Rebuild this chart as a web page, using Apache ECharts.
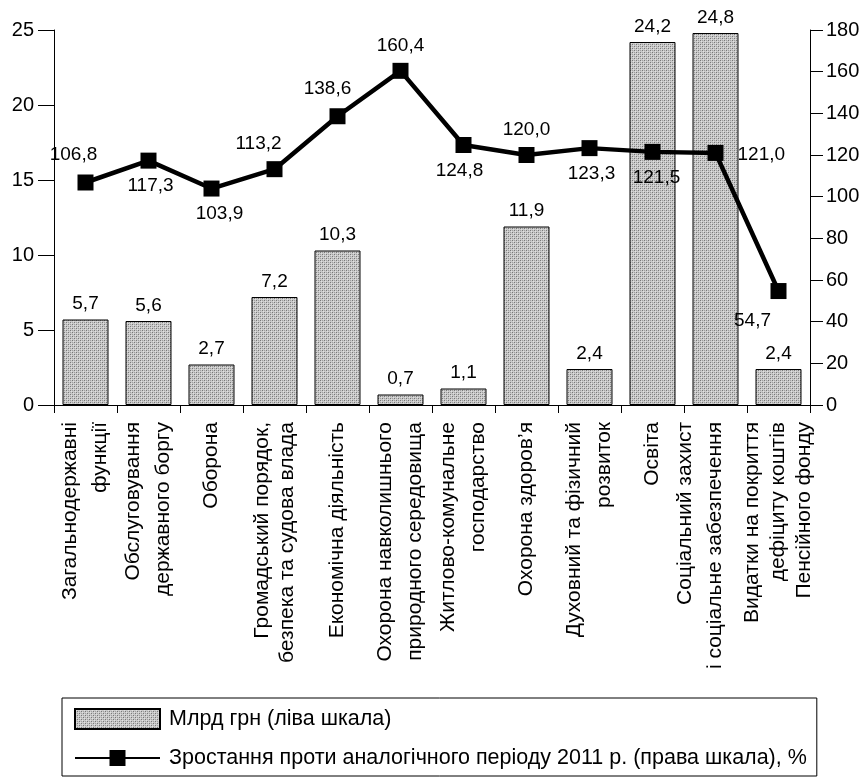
<!DOCTYPE html>
<html>
<head>
<meta charset="utf-8">
<script src="https://cdn.jsdelivr.net/npm/echarts@6/dist/echarts.min.js"></script>
<style>
  html, body { margin: 0; padding: 0; background: #fff; }
  #chart { width: 868px; height: 778px; }
</style>
</head>
<body>
<div id="chart"></div>
<script>
// Budget expenditure categories
var categories = [
  'Загальнодержавні\nфункції',
  'Обслуговування\nдержавного боргу',
  'Оборона',
  'Громадський порядок,\nбезпека та судова влада',
  'Економічна діяльність',
  'Охорона навколишнього\nприродного середовища',
  'Житлово-комунальне\nгосподарство',
  'Охорона здоров\u2019я',
  'Духовний та фізичний\nрозвиток',
  'Освіта',
  'Соціальний захист\nі соціальне забезпечення',
  'Видатки на покриття\nдефіциту коштів\nПенсійного фонду'
];

// Spending, bn UAH (left scale)
var spending = [5.7, 5.6, 2.7, 7.2, 10.3, 0.7, 1.1, 11.9, 2.4, 24.2, 24.8, 2.4];

// Growth vs the same period of 2011, % (right scale)
var growth = [106.8, 117.3, 103.9, 113.2, 138.6, 160.4, 124.8, 120.0, 123.3, 121.5, 121.0, 54.7];

var barName = 'Млрд грн (ліва шкала)';
var lineName = 'Зростання проти аналогічного періоду 2011 р. (права шкала), %';

// Line spacing of the rotated category captions (default 30)
var captionLineHeight = { 3: 25, 11: 26 };
// Captions pushed half a line to the left (to clear the neighbouring caption)
var captionPushLeft = { 10: true };

// Where each growth label sits around its marker
var growthLabelPlace = [
  { position: 'top', offset: [-12, -4] },
  { position: 'bottom', offset: [2, 2] },
  { position: 'bottom', offset: [8, 2] },
  { position: 'top', offset: [-16, -2] },
  { position: 'top', offset: [-10, -4] },
  { position: 'top', offset: [0, -2] },
  { position: 'bottom', offset: [-4, 2] },
  { position: 'top', offset: [0, -2] },
  { position: 'bottom', offset: [2, 2] },
  { position: 'bottom', offset: [4, 2] },
  { position: 'right', offset: [8, 2] },
  { position: 'bottom', offset: [-26, 6] }
];

function fmt(v) {
  return v.toFixed(1).replace('.', ',');
}

// Halftone-like grey fill for the bars
function makeTexture() {
  var c = document.createElement('canvas');
  c.width = 4; c.height = 4;
  var g = c.getContext('2d');
  g.fillStyle = '#cacaca';
  g.fillRect(0, 0, 4, 4);
  g.fillStyle = '#787878';
  g.fillRect(0, 0, 1, 1);
  g.fillRect(2, 2, 1, 1);
  g.fillStyle = '#a0a0a0';
  g.fillRect(2, 0, 1, 1);
  g.fillRect(0, 2, 1, 1);
  g.fillStyle = '#e0e0e0';
  g.fillRect(1, 1, 1, 1);
  g.fillRect(3, 3, 1, 1);
  return c;
}
var texture = { image: makeTexture(), repeat: 'repeat' };

var FONT = '"Liberation Sans", Arial, sans-serif';

var axisCategories = categories.map(function (name, i) {
  return {
    value: name,
    textStyle: { lineHeight: captionLineHeight[i] || 30 }
  };
});

var chart = echarts.init(document.getElementById('chart'), null, { renderer: 'canvas' });

chart.setOption({
  animation: false,
  backgroundColor: '#fff',
  textStyle: { fontFamily: FONT, color: '#000' },
  grid: { left: 54, right: 58, top: 30, bottom: 373, containLabel: false },
  legend: {
    orient: 'vertical',
    left: 62,
    top: 698,
    itemWidth: 85,
    itemHeight: 20,
    itemGap: 17,
    padding: [10, 10, 7, 12],
    borderColor: '#000',
    borderWidth: 1,
    borderRadius: 0,
    textStyle: { fontFamily: FONT, fontSize: 21.5, color: '#000', padding: [0, 0, 0, 4] },
    data: [
      { name: barName, icon: 'rect' },
      { name: lineName }
    ]
  },
  xAxis: {
    type: 'category',
    data: axisCategories,
    boundaryGap: true,
    axisLine: { lineStyle: { color: '#000', width: 1 } },
    axisTick: { show: true, length: 8, lineStyle: { color: '#000' } },
    axisLabel: {
      rotate: 90,
      interval: 0,
      margin: 17,
      fontFamily: FONT,
      fontSize: 21,
      lineHeight: 30,
      color: '#000',
      formatter: function (value, index) {
        // a trailing empty line shifts the rotated block sideways
        return captionPushLeft[index] ? value + '\n' : value;
      }
    },
    splitLine: { show: false }
  },
  yAxis: [
    {
      type: 'value',
      min: 0,
      max: 25,
      interval: 5,
      position: 'left',
      axisLine: { show: true, lineStyle: { color: '#000', width: 1 } },
      axisTick: { show: true, length: 16, lineStyle: { color: '#000' } },
      axisLabel: { fontFamily: FONT, fontSize: 20, color: '#000', margin: 20 },
      splitLine: { show: false }
    },
    {
      type: 'value',
      min: 0,
      max: 180,
      interval: 20,
      position: 'right',
      axisLine: { show: true, lineStyle: { color: '#000', width: 1 } },
      axisTick: { show: true, length: 13, lineStyle: { color: '#000' } },
      axisLabel: { fontFamily: FONT, fontSize: 20, color: '#000', margin: 16 },
      splitLine: { show: false }
    }
  ],
  series: [
    {
      name: barName,
      type: 'bar',
      yAxisIndex: 0,
      barCategoryGap: '27%',
      data: spending,
      itemStyle: { color: texture, borderColor: '#000', borderWidth: 1 },
      label: {
        show: true,
        position: 'top',
        distance: 6,
        fontFamily: FONT,
        fontSize: 19,
        color: '#000',
        formatter: function (p) { return fmt(p.value); }
      },
      z: 2
    },
    {
      name: lineName,
      type: 'line',
      yAxisIndex: 1,
      data: growth.map(function (v, i) {
        return {
          value: v,
          label: {
            position: growthLabelPlace[i].position,
            offset: growthLabelPlace[i].offset
          }
        };
      }),
      symbol: 'rect',
      symbolSize: 16,
      lineStyle: { color: '#000', width: 4.5 },
      itemStyle: { color: '#000' },
      label: {
        show: true,
        distance: 6,
        fontFamily: FONT,
        fontSize: 19,
        color: '#000',
        formatter: function (p) { return fmt(p.value); }
      },
      z: 5
    }
  ]
});
</script>
</body>
</html>
